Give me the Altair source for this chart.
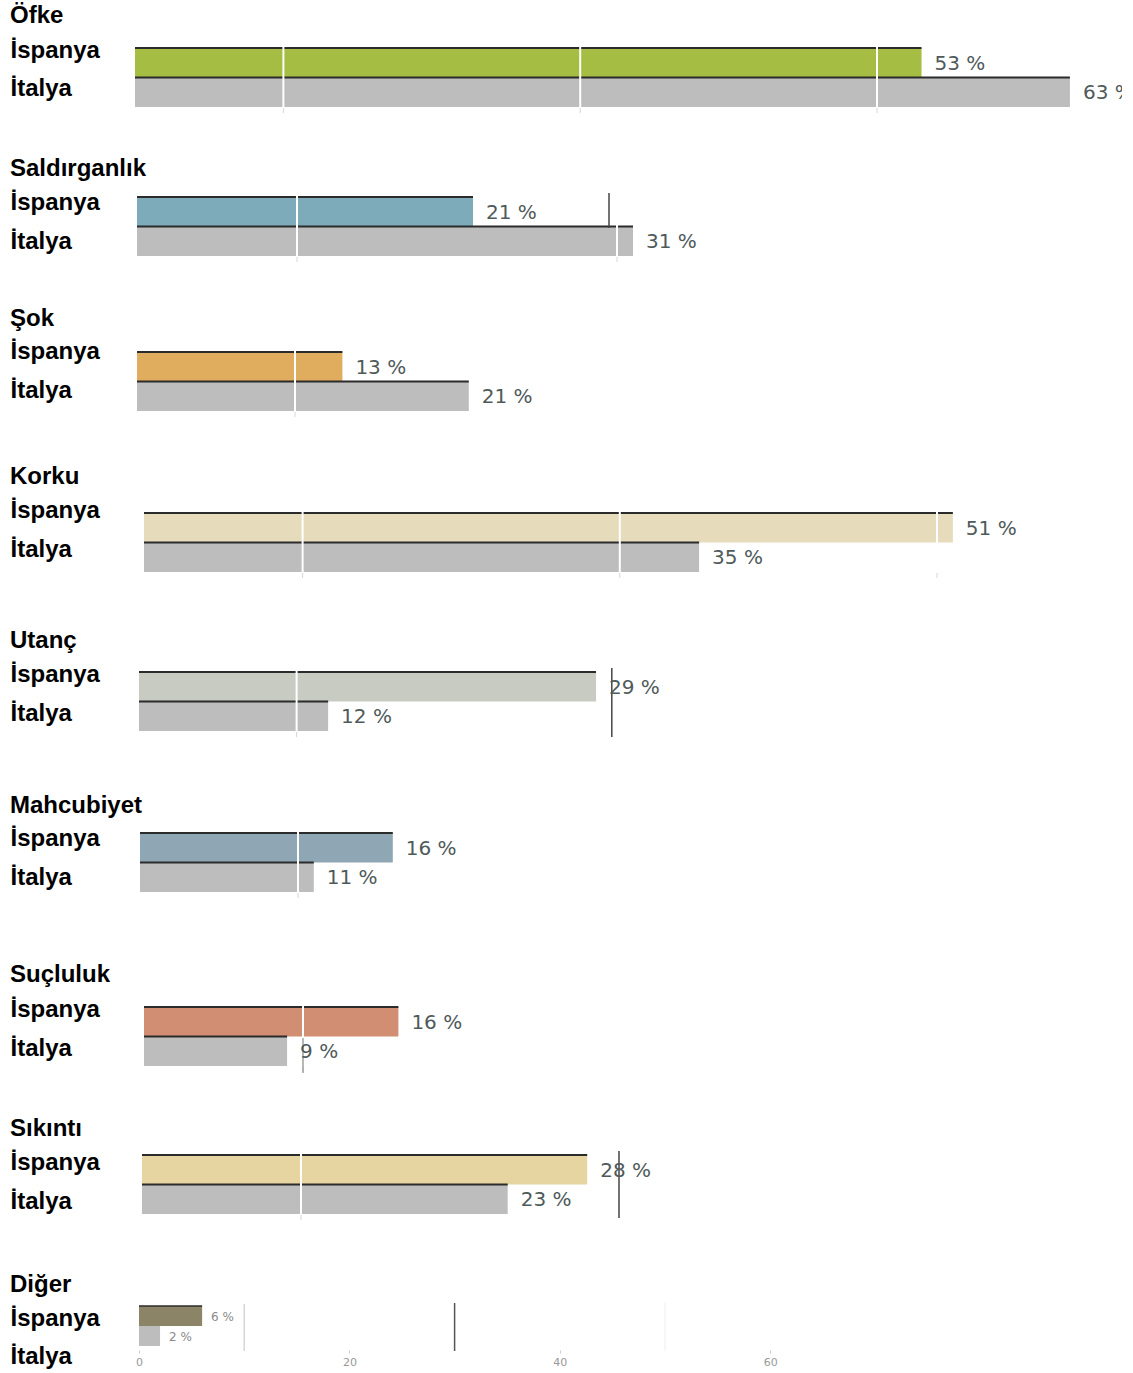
import altair as alt
import pandas as pd

# ---------------- data ----------------
categories = ["Öfke", "Saldırganlık", "Şok", "Korku", "Utanç",
              "Mahcubiyet", "Suçluluk", "Sıkıntı", "Diğer"]
countries = ["İspanya", "İtalya"]
spain_values = [53, 21, 13, 51, 29, 16, 16, 28, 6]
italy_values = [63, 31, 21, 35, 12, 11, 9, 23, 2]
spain_colors = ["#a6bd43", "#7eabb9", "#e0ad5e", "#e6dcbb", "#c8cbc2",
                "#8fa6b4", "#d28e73", "#e6d5a0", "#8c8466"]
italy_color = "#bdbdbd"
grid_values = [10, 30, 50]
axis_ticks = [0, 20, 40, 60]

# ---------------- layout (each panel is a separate screenshot with its own scale) ----------------
PLOT_LEFT = 135
PLOT_W = 987
bar_start_px = [135, 137, 137, 144, 139, 140, 144, 142, 139]
px_per_unit = [14.84, 16.0, 15.8, 15.86, 15.76, 15.8, 15.9, 15.9, 10.52]
bar_top_px = [47, 196, 351, 512, 671, 832, 1006, 1154, 1305]
title_center_px = [15, 168, 318, 476, 640, 805, 974, 1128, 1284]
title_adjust = [0, 0, 0, 0, 0, 0, 0, 0, -3]
band_step = [29.5] * 8 + [20]
label_offsets = [(-12, -3), (-9, 1), (-15, -5), (-17, -7), (-12, -2),
                 (-9, 1), (-12, -2), (-7, 3), (3, 21)]
LAST_HEIGHT = 44
# stray vertical lines visible in the source screenshots: (value, y0, y1, color, width)
extra_lines = {
    1: [(29.5, -4, 31, "#444444", 1.5)],
    4: [(30, -4, 65, "#444444", 1.5)],
    6: [(10, 31, 66, "#888888", 1.2)],
    7: [(30, -4, 63, "#444444", 1.5)],
    8: [(10, -2, 45, "#cccccc", 1.2), (30, -3, 45, "#555555", 1.5),
        (50, -3, 45, "#eeeeee", 1.0)],
}

LABEL_FONT = "Liberation Sans"
LABEL_SIZE = 24
TITLE_CENTER_TO_TOP = 12
TITLE_CENTER_TO_BOTTOM = 12.75


def make_panel(i):
    n = len(categories)
    last = i == n - 1
    vals = [spain_values[i], italy_values[i]]
    df = pd.DataFrame({
        "country": countries,
        "value": vals,
        "color": [spain_colors[i], italy_color],
        "label": [f"{v} %" for v in vals],
    })
    ppu = px_per_unit[i]
    xmin = -(bar_start_px[i] - PLOT_LEFT) / ppu
    xmax = xmin + PLOT_W / ppu
    step = band_step[i]
    if last:
        H = LAST_HEIGHT
    else:
        H = title_center_px[i + 1] - TITLE_CENTER_TO_TOP - bar_top_px[i]
    o1, o2 = label_offsets[i]
    ext = max(0.0, LABEL_SIZE / 2 - (step / 2 + o1))
    t_off = max(0, round(bar_top_px[i] - title_center_px[i]
                         - TITLE_CENTER_TO_BOTTOM - ext + title_adjust[i]))

    if last:
        xaxis = alt.Axis(values=axis_ticks, title=None, domain=False, grid=False,
                         ticks=True, tickSize=3, tickColor="#cccccc",
                         labelFontSize=11, labelColor="#999999",
                         labelFont="DejaVu Sans", labelPadding=3)
    else:
        xaxis = None
    xscale = alt.Scale(domain=[xmin, xmax], nice=False, zero=False)
    yaxis = alt.Axis(
        title=None, domain=False, ticks=False, grid=False,
        labelAlign="left", labelBaseline="middle", labelPadding=125,
        labelFont=LABEL_FONT, labelFontSize=LABEL_SIZE, labelFontWeight="bold",
        labelColor="black",
        labelOffset={"condition": {"test": "datum.value === 'İspanya'", "value": o1},
                     "value": o2},
    )
    yscale = alt.Scale(domain=countries, range=[0, 2 * step],
                       paddingInner=0, paddingOuter=0)

    base = alt.Chart(df)
    bars = base.mark_bar().encode(
        x=alt.X("value:Q", scale=xscale, axis=xaxis),
        x2=alt.datum(0),
        y=alt.Y("country:N", scale=yscale, axis=yaxis, sort=countries),
        color=alt.Color("color:N", scale=None),
    )
    top_df = df if not last else df.iloc[:1]
    top_line = alt.Chart(top_df).mark_rule(
        color="#2b2b2b", strokeWidth=2 if not last else 1.5
    ).encode(
        x="value:Q", x2=alt.datum(0),
        y=alt.Y("country:N", bandPosition=0, sort=countries),
    )
    fs = 20 if not last else 12
    texts = base.mark_text(
        align="left", baseline="middle", dx=13 if not last else 9, dy=1,
        fontSize=fs, font="DejaVu Sans", color="#4f5a5a" if not last else "#8a8a8a",
        clip=True,
    ).encode(x="value:Q", y=alt.Y("country:N", sort=countries), text="label:N")

    layers = [bars, top_line]
    g = [v for v in grid_values if v < max(vals)]
    if g:
        gdf = pd.DataFrame({"g": g})
        layers.append(alt.Chart(gdf).mark_rule(color="white", strokeWidth=2).encode(
            x="g:Q", y=alt.value(-2), y2=alt.value(2 * step + 1)))
        layers.append(alt.Chart(gdf).mark_rule(color="#d6d6d6", strokeWidth=1).encode(
            x="g:Q", y=alt.value(2 * step + 1), y2=alt.value(2 * step + 6)))
    for (v, y0, y1, col, w) in extra_lines.get(i, []):
        layers.append(alt.Chart(pd.DataFrame({"v": [v]})).mark_rule(
            color=col, strokeWidth=w).encode(
            x="v:Q", y=alt.value(y0), y2=alt.value(y1)))
    layers.append(texts)

    return alt.layer(*layers).properties(
        width=PLOT_W, height=H,
        title=alt.TitleParams(
            text=categories[i], anchor="start", fontSize=24, font=LABEL_FONT,
            fontWeight="bold", color="black", offset=t_off,
        ),
    )


chart = alt.vconcat(*[make_panel(i) for i in range(len(categories))], spacing=0).properties(
    padding={"left": 10, "top": 4, "right": 0, "bottom": 0}
).configure_view(stroke=None).configure_axis(grid=False)

chart.save("out.html", embed_options={"renderer": "svg", "actions": False})
